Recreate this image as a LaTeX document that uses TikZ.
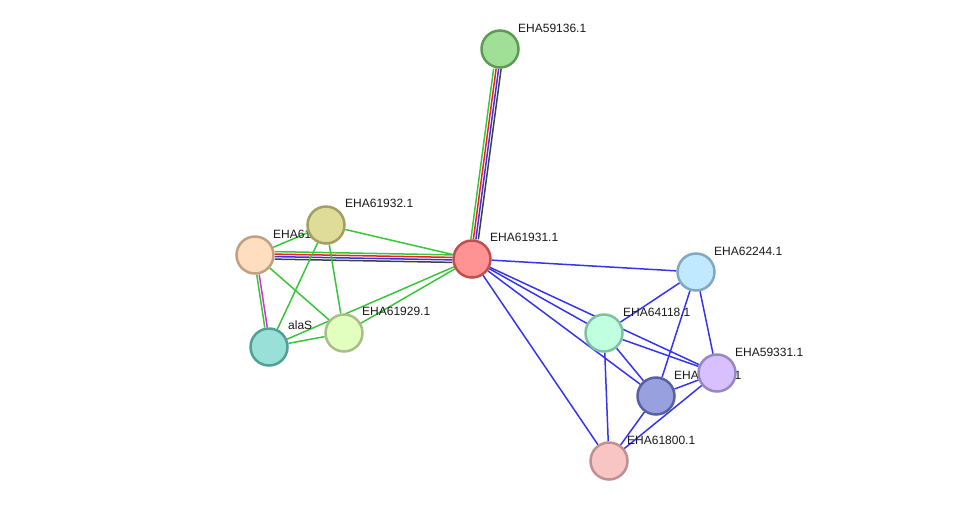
\documentclass[tikz,border=0pt]{standalone}
\usepackage{fontspec}
\setmainfont{Liberation Sans}
\usetikzlibrary{backgrounds}
\definecolor{lkgreen}{HTML}{3CC43C}
\definecolor{lkred}{HTML}{F42020}
\definecolor{lkblue}{HTML}{3535F0}
\definecolor{lkblack}{HTML}{404040}
\definecolor{lkpink}{HTML}{D830D8}

\begin{document}
\begin{tikzpicture}[x=1pt,y=-1pt,prot/.style={circle,draw,minimum size=37pt,inner sep=0pt,line width=2.5pt},lbl/.style={anchor=west,inner sep=0pt,font=\fontsize{12}{14}\selectfont,text=black!90},link/.style={line width=1.5pt}]
\useasboundingbox (0,0) rectangle (976,507);
\node[prot,fill={rgb,255:red,160;green,224;blue,150},draw={rgb,255:red,94;green,154;blue,85}] (n59136) at (500,49) {};
\node[prot,fill={rgb,255:red,255;green,146;blue,146},draw={rgb,255:red,192;green,80;blue,80}] (n61931) at (472,259) {};
\node[prot,fill={rgb,255:red,222;green,220;blue,152},draw={rgb,255:red,160;green,160;blue,96}] (n61932) at (326,225) {};
\node[prot,fill={rgb,255:red,255;green,222;blue,192},draw={rgb,255:red,192;green,160;blue,128}] (n61930) at (255,255) {};
\node[prot,fill={rgb,255:red,152;green,224;blue,216},draw={rgb,255:red,80;green,160;blue,152}] (alaS) at (269,347) {};
\node[prot,fill={rgb,255:red,226;green,255;blue,192},draw={rgb,255:red,168;green,192;blue,136}] (n61929) at (344,333) {};
\node[prot,fill={rgb,255:red,192;green,232;blue,255},draw={rgb,255:red,128;green,168;blue,192}] (n62244) at (696,272) {};
\node[prot,fill={rgb,255:red,192;green,255;blue,224},draw={rgb,255:red,128;green,192;blue,160}] (n64118) at (604,333) {};
\node[prot,fill={rgb,255:red,216;green,192;blue,255},draw={rgb,255:red,152;green,136;blue,192}] (n59331) at (717,373) {};
\node[prot,fill={rgb,255:red,152;green,160;blue,224},draw={rgb,255:red,88;green,96;blue,160}] (n60118) at (656,396) {};
\node[prot,fill={rgb,255:red,248;green,196;blue,196},draw={rgb,255:red,192;green,144;blue,144}] (n61800) at (609,461) {};
\begin{scope}[on background layer]
% edges
\draw[link,lkgreen,transform canvas={xshift=-3.75pt}](n61931)--(n59136);\draw[link,lkred,transform canvas={xshift=-1.25pt}](n61931)--(n59136);\draw[link,lkblue,transform canvas={xshift=1.25pt}](n61931)--(n59136);\draw[link,lkblack,transform canvas={xshift=3.75pt}](n61931)--(n59136);
\draw[link,lkgreen,transform canvas={yshift=3.75pt}](n61931)--(n61930);\draw[link,lkred,transform canvas={yshift=1.25pt}](n61931)--(n61930);\draw[link,lkblue,transform canvas={yshift=-1.25pt}](n61931)--(n61930);\draw[link,lkblack,transform canvas={yshift=-3.75pt}](n61931)--(n61930);
\draw[link,lkgreen,transform canvas={xshift=-1.25pt}](n61930)--(alaS);\draw[link,lkpink,transform canvas={xshift=1.25pt}](n61930)--(alaS);
\draw[link,lkgreen](n61931)--(n61932);\draw[link,lkgreen](n61931)--(n61929);\draw[link,lkgreen](n61931)--(alaS);\draw[link,lkgreen](n61930)--(n61932);\draw[link,lkgreen](n61930)--(n61929);\draw[link,lkgreen](n61932)--(alaS);\draw[link,lkgreen](n61932)--(n61929);\draw[link,lkgreen](alaS)--(n61929);
\draw[link,lkblue](n61931)--(n62244);\draw[link,lkblue](n61931)--(n64118);\draw[link,lkblue](n61931)--(n59331);\draw[link,lkblue](n61931)--(n60118);\draw[link,lkblue](n61931)--(n61800);
\draw[link,lkblue](n62244)--(n64118);\draw[link,lkblue](n62244)--(n60118);\draw[link,lkblue](n62244)--(n59331);\draw[link,lkblue](n64118)--(n59331);\draw[link,lkblue](n64118)--(n60118);\draw[link,lkblue](n64118)--(n61800);\draw[link,lkblue](n60118)--(n59331);\draw[link,lkblue](n60118)--(n61800);\draw[link,lkblue](n59331)--(n61800);
% labels
\node[lbl] (t59136) at ([shift={(18,-21)}]n59136.center) {EHA59136.1};
\node[lbl] (t61931) at ([shift={(18,-22)}]n61931.center) {EHA61931.1};
\node[lbl] (t61932) at ([shift={(19,-22)}]n61932.center) {EHA61932.1};
\node[lbl] (t61930) at ([shift={(18,-21)}]n61930.center) {EHA61930.1};
\node[lbl] (talaS) at ([shift={(19,-22)}]alaS.center) {alaS};
\node[lbl] (t61929) at ([shift={(18,-22)}]n61929.center) {EHA61929.1};
\node[lbl] (t62244) at ([shift={(18,-21)}]n62244.center) {EHA62244.1};
\node[lbl] (t64118) at ([shift={(19,-21)}]n64118.center) {EHA64118.1};
\node[lbl] (t59331) at ([shift={(18,-21)}]n59331.center) {EHA59331.1};
\node[lbl] (t60118) at ([shift={(18,-21)}]n60118.center) {EHA60118.1};
\node[lbl] (t61800) at ([shift={(18,-21)}]n61800.center) {EHA61800.1};
\end{scope}
\end{tikzpicture}
\end{document}
